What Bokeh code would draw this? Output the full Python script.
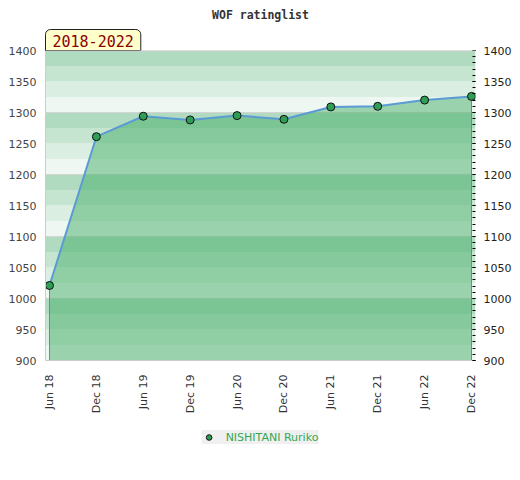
import math
from bokeh.plotting import figure
from bokeh.layouts import column
from bokeh.models import (Range1d, LinearAxis, SingleIntervalTicker, FixedTicker,
                          BoxAnnotation, Title, Legend, LegendItem, Span)
from bokeh.embed import file_html
from bokeh.resources import INLINE

# ---- data ----
title_text = "WOF ratinglist"
period_text = "2018-2022"
player = "NISHITANI Ruriko"
date_labels = ["Jun 18", "Dec 18", "Jun 19", "Dec 19", "Jun 20",
               "Dec 20", "Jun 21", "Dec 21", "Jun 22", "Dec 22"]
ratings = [1021, 1261, 1294, 1288, 1295, 1289, 1309, 1310, 1320, 1326]
y_min, y_max = 900, 1400
label_step = 50
minor_step = 10
grid_step = 100
band_step = 25
band_colors = ["#eff7f2", "#daeee1", "#c6e5d1", "#b0dbc0"]  # bottom -> top inside each 100

idx = list(range(len(date_labels)))
pad = 0.085

marker_fill = "#2e9e55"
marker_line = "#111111"

p = figure(frame_width=430, frame_height=310, output_backend="svg", toolbar_location=None,
           x_range=Range1d(idx[0] - pad, idx[-1] + pad),
           y_range=Range1d(y_min, y_max),
           min_border_left=45, min_border_right=45,
           min_border_top=50, min_border_bottom=60)
p.background_fill_color = "white"
p.border_fill_color = "white"
p.outline_line_color = None

# period badge (closest to the frame)
badge = Title(text=period_text, align="left", standoff=0,
              text_font="DejaVu Sans Mono", text_font_size="15px", text_color="#8b0000",
              text_font_style="normal",
              background_fill_color="#ffffcc", background_fill_alpha=1.0,
              border_line_color="#222222", border_line_width=1,
              padding=dict(left=7, right=7, top=5, bottom=4),
              border_radius=dict(top_left=5, top_right=5, bottom_right=0, bottom_left=0))
p.add_layout(badge, "above")
# main title
main_title = Title(text=title_text, align="center", standoff=11,
                   text_font="DejaVu Sans Mono", text_font_size="11.5px",
                   text_font_style="bold", text_color="#333333")
p.add_layout(main_title, "above")

# background bands
n_bands = (y_max - y_min) // band_step
for i in range(n_bands):
    b = y_min + i * band_step
    p.add_layout(BoxAnnotation(bottom=b, top=b + band_step,
                               fill_color=band_colors[i % len(band_colors)],
                               fill_alpha=1.0, line_color=None, level="image"))

# grid
p.xgrid.grid_line_color = None
p.ygrid.ticker = SingleIntervalTicker(interval=grid_step, num_minor_ticks=0)
p.ygrid.grid_line_color = "#d4d4d4"
p.ygrid.grid_line_width = 1

# top border
p.add_layout(Span(location=y_max, dimension="width", line_color="#cccccc", line_width=2))

# area
p.varea(x=idx, y1=[y_min] * len(idx), y2=ratings, fill_color="#45ae67", fill_alpha=0.5)
# area edges at both ends
p.segment(x0=[idx[0], idx[-1]], y0=[ratings[0], ratings[-1]],
          x1=[idx[0], idx[-1]], y1=[y_min, y_min], line_color="#44a865", line_width=1)
# line
p.line(idx, ratings, line_color="#5b9bd5", line_width=2)
# points
pts = p.scatter(idx, ratings, size=8, fill_color=marker_fill, line_color=marker_line,
                line_width=1)

# left axis
ya = p.yaxis[0]
ya.ticker = SingleIntervalTicker(interval=label_step, num_minor_ticks=0)
ya.axis_line_color = "#cccccc"
ya.major_tick_out = 0
ya.major_tick_in = 0
ya.minor_tick_out = 0
ya.minor_tick_in = 0
ya.major_label_standoff = 9
ya.major_label_text_font = "DejaVu Sans"
ya.major_label_text_font_size = "11px"
ya.major_label_text_color = "#444444"

# right axis
ra = LinearAxis(ticker=SingleIntervalTicker(interval=label_step,
                                            num_minor_ticks=label_step // minor_step))
ra.axis_line_color = None
ra.major_tick_out = 0
ra.major_tick_in = 3
ra.minor_tick_out = 0
ra.minor_tick_in = 3
ra.major_tick_line_color = "#000000"
ra.minor_tick_line_color = "#000000"
ra.major_label_standoff = 8
ra.major_label_text_font = "DejaVu Sans"
ra.major_label_text_font_size = "11px"
ra.major_label_text_color = "#222222"
p.add_layout(ra, "right")

# bottom axis
xa = p.xaxis[0]
xa.ticker = FixedTicker(ticks=idx)
xa.major_label_overrides = {i: lab for i, lab in zip(idx, date_labels)}
xa.major_label_orientation = math.pi / 2
xa.axis_line_color = "#cccccc"
xa.major_tick_out = 0
xa.major_tick_in = 0
xa.minor_tick_out = 0
xa.minor_tick_in = 0
xa.major_label_standoff = 14
xa.major_label_text_font = "DejaVu Sans"
xa.major_label_text_font_size = "11px"
xa.major_label_text_color = "#333333"

# legend in its own strip below (key marker point lies outside this strip's view)
leg = figure(width=520, height=34, output_backend="svg", toolbar_location=None,
             x_range=Range1d(-1, 0), y_range=Range1d(-1, 0),
             x_axis_type=None, y_axis_type=None, min_border=0)
leg.grid.visible = False
leg.outline_line_color = None
leg.background_fill_color = "white"
leg.border_fill_color = "white"
key = leg.scatter(x=idx[:1], y=ratings[:1], size=8, fill_color=marker_fill,
                  line_color=marker_line, line_width=1)
legend = Legend(items=[LegendItem(label=player, renderers=[key])],
                orientation="horizontal", location="center",
                background_fill_color="#f0f0f0", background_fill_alpha=1.0,
                border_line_color=None,
                label_text_color="#33a852", label_text_font="DejaVu Sans",
                label_text_font_size="11px",
                padding=3, spacing=0, glyph_width=14, glyph_height=14,
                label_standoff=10, label_height=14, margin=0)
leg.add_layout(legend)

layout = column(p, leg, spacing=0)
open("out.html", "w").write(file_html(layout, INLINE))
